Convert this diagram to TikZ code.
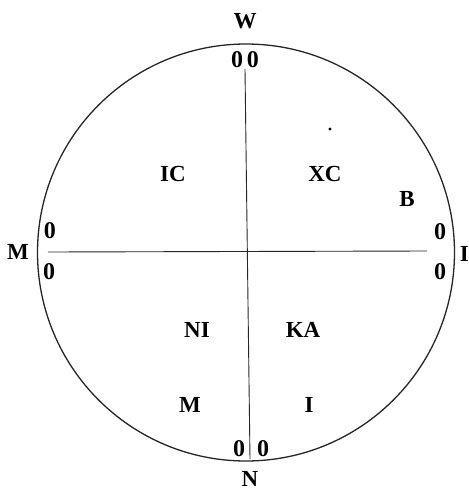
\documentclass[tikz,border=0pt]{standalone}
\usepackage{fontspec}
\setmainfont{Liberation Serif}
\begin{document}
\begin{tikzpicture}[x=1pt,y=-1pt,
  lbl/.style={font=\fontsize{23}{23}\selectfont\bfseries, inner sep=0pt},
  zero/.style={font=\fontsize{24}{24}\selectfont\bfseries, inner sep=0pt},
  rim/.style={line width=1.3pt, black!85},
  axis/.style={line width=0.9pt, black!85}]
\useasboundingbox (0,0) rectangle (469,491);
\fill[white] (0,0) rectangle (469,491);
% circle
\node[draw, rim, circle, minimum size=417pt, inner sep=0pt] (rim) at (246,252.5) {};
% axes
\coordinate (vt) at (245,69);
\coordinate (vb) at (250,459);
\coordinate (hl) at (48,252);
\coordinate (hr) at (427,251);
\draw[axis] (vt) -- (vb);
\draw[axis] (hl) -- (hr);
% cardinal labels
\node[lbl] (W) at (245,21) {W};
\node[lbl] (N) at (250,479) {N};
\node[lbl] (Ml) at (18,252) {M};
\node[lbl, anchor=east] (D) at (469,254) {I};
% zeros
\node[zero] (zt) at (245,60) {0\,0};
\node[zero] (zb1) at (239,449) {0};
\node[zero] (zb2) at (263,449) {0};
\node[zero] (zl1) at (50,231) {0};
\node[zero] (zl2) at (49,272) {0};
\node[zero] (zr1) at (440,232) {0};
\node[zero] (zr2) at (440,272) {0};
% quadrant labels
\node[lbl] (IC) at (173,174) {IC};
\node[lbl] (XC) at (325,174) {XC};
\node[lbl] (B) at (407,199) {B};
\node[lbl] (NI) at (197,330) {NI};
\node[lbl] (KA) at (303,330) {KA};
\node[lbl] (M) at (190,405) {M};
\node[lbl] (I) at (309,405) {I};
\fill (330,129) circle (1.6pt);
\end{tikzpicture}
\end{document}
